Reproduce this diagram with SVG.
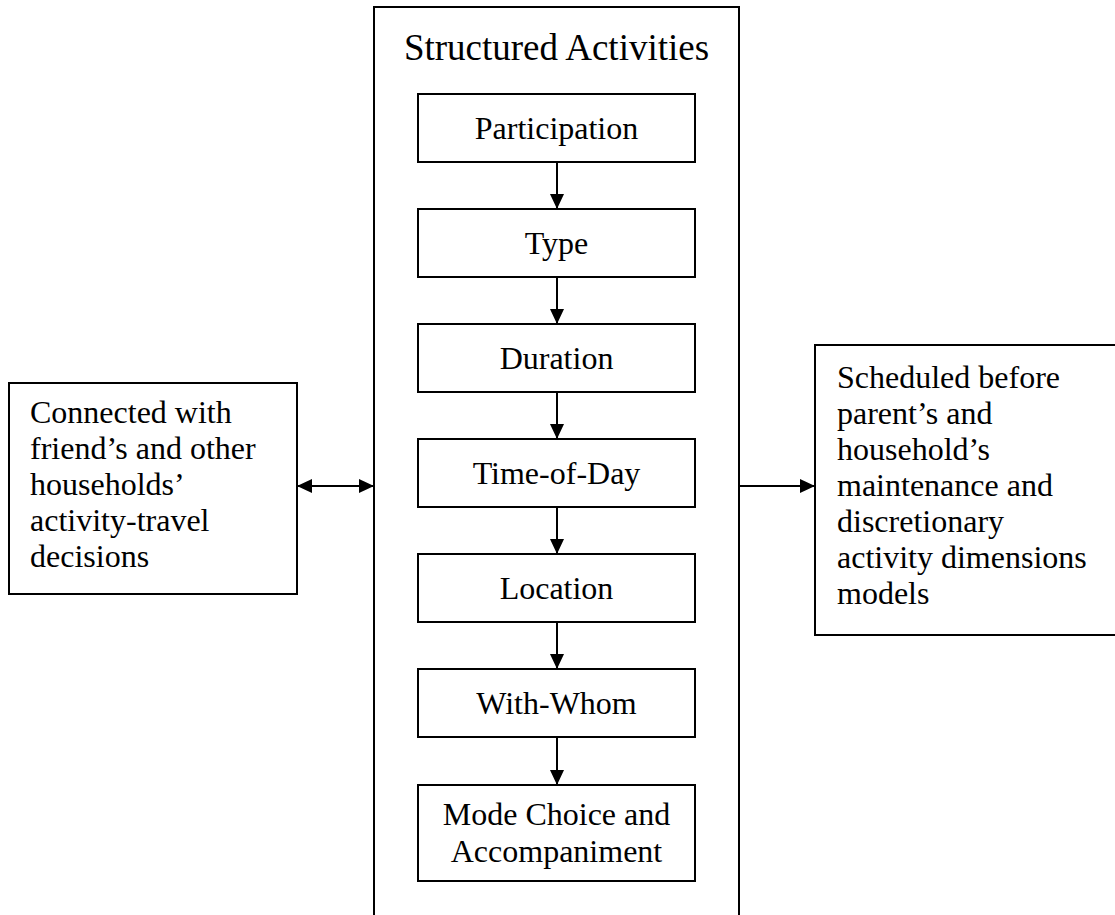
<svg xmlns="http://www.w3.org/2000/svg" width="1115" height="915" viewBox="0 0 1115 915">
<style>
.box{fill:#fff;stroke:#000;stroke-width:2}
.ln{fill:none;stroke:#000;stroke-width:2}
text{font-family:"Liberation Serif","Times New Roman",serif;font-size:32px;fill:#000}
.c{text-anchor:middle}
</style>
<defs>
<marker id="ah" viewBox="0 0 15 14" refX="15" refY="7" markerWidth="15" markerHeight="14" markerUnits="userSpaceOnUse" orient="auto-start-reverse">
<path d="M0,0 L15,7 L0,14 Z" fill="#000"/>
</marker>
</defs>
<rect width="1115" height="915" fill="#fff"/>
<g id="structured-activities">
<path class="ln" d="M374,916 V7 H739 V916"/>
<text class="c" x="556.5" y="60" style="font-size:37px">Structured Activities</text>
</g>
<g id="participation"><rect class="box" x="418" y="94" width="277" height="68"/><text class="c" x="556.5" y="139">Participation</text></g>
<g id="type"><rect class="box" x="418" y="209" width="277" height="68"/><text class="c" x="556.5" y="254">Type</text></g>
<g id="duration"><rect class="box" x="418" y="324" width="277" height="68"/><text class="c" x="556.5" y="369">Duration</text></g>
<g id="time-of-day"><rect class="box" x="418" y="439" width="277" height="68"/><text class="c" x="556.5" y="484">Time-of-Day</text></g>
<g id="location"><rect class="box" x="418" y="554" width="277" height="68"/><text class="c" x="556.5" y="599">Location</text></g>
<g id="with-whom"><rect class="box" x="418" y="669" width="277" height="68"/><text class="c" x="556.5" y="714">With-Whom</text></g>
<g id="mode-choice"><rect class="box" x="418" y="785" width="277" height="96"/><text class="c" x="556.5" y="825">Mode Choice and</text><text class="c" x="556.5" y="862">Accompaniment</text></g>
<g id="connected">
<rect class="box" x="9" y="383" width="288" height="211"/>
<text x="30" y="423">Connected with</text>
<text x="30" y="459">friend’s and other</text>
<text x="30" y="495">households’</text>
<text x="30" y="531">activity-travel</text>
<text x="30" y="567">decisions</text>
</g>
<g id="scheduled">
<rect class="box" x="815" y="345" width="320" height="290"/>
<text x="837" y="388">Scheduled before</text>
<text x="837" y="424">parent’s and</text>
<text x="837" y="460">household’s</text>
<text x="837" y="496">maintenance and</text>
<text x="837" y="532">discretionary</text>
<text x="837" y="568">activity dimensions</text>
<text x="837" y="604">models</text>
</g>
<g id="connectors">
<line class="ln" x1="557" y1="162" x2="557" y2="209" marker-end="url(#ah)"/>
<line class="ln" x1="557" y1="277" x2="557" y2="324" marker-end="url(#ah)"/>
<line class="ln" x1="557" y1="392" x2="557" y2="439" marker-end="url(#ah)"/>
<line class="ln" x1="557" y1="507" x2="557" y2="554" marker-end="url(#ah)"/>
<line class="ln" x1="557" y1="622" x2="557" y2="669" marker-end="url(#ah)"/>
<line class="ln" x1="557" y1="737" x2="557" y2="785" marker-end="url(#ah)"/>
<line class="ln" x1="297" y1="486" x2="374" y2="486" marker-start="url(#ah)" marker-end="url(#ah)"/>
<line class="ln" x1="739" y1="486" x2="815" y2="486" marker-end="url(#ah)"/>
</g>
</svg>
